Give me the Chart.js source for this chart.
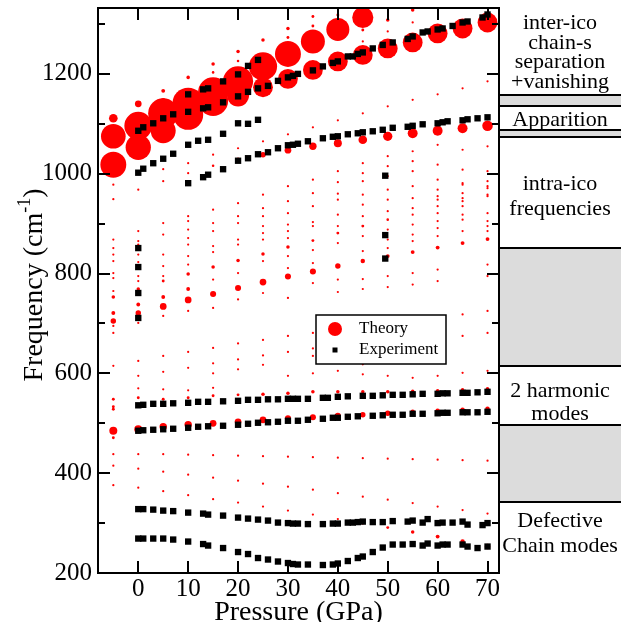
<!DOCTYPE html>
<html>
<head>
<meta charset="utf-8">
<script src="https://cdn.jsdelivr.net/npm/chart.js@4.4.0/dist/chart.umd.min.js"></script>
<style>
  html, body { margin: 0; padding: 0; background: #fff; }
</style>
</head>
<body>
<canvas id="chart" width="621" height="622"></canvas>
<script>
// ---- data ----
const theoryPressure = [-5, 0, 5, 10, 15, 20, 25, 30, 35, 40, 45, 50, 55, 60, 65, 70];

// strong theoretical modes (frequency, relative intensity 0..100)
const strongFreq = [
  [1075, 1018, 1111, 705, 721, 753, 485, 548, 533, 528, 471],
  [1096, 1053, 1140, 721, 738, 769, 488, 551],
  [1121, 1086, 1146, 1166, 734, 753, 785, 493, 548],
  [1141, 1118, 1168, 1193, 747, 769, 799, 497, 551],
  [1163, 1146, 1220, 1203, 1016, 759, 813, 500, 555],
  [1185, 1157, 1245, 1226, 1029, 771, 826, 503, 557],
  [1215, 1173, 1268, 1038, 783, 839, 507, 558],
  [1240, 1190, 1291, 1273, 1047, 794, 853, 510, 560],
  [1265, 1208, 1315, 1296, 1055, 804, 866, 512, 563],
  [1289, 1225, 1318, 1061, 815, 881, 515, 563],
  [1313, 1238, 1288, 1068, 825, 895, 517, 563],
  [1251, 1308, 1075, 835, 908, 520, 563, 291],
  [1263, 1328, 1081, 843, 523, 564, 282],
  [1281, 1086, 852, 525, 565, 273],
  [1291, 1091, 861, 527, 567, 263],
  [1303, 1096, 869, 529, 569, 253]
];
const strongInt = [
  [77, 81, 27, 17, 12, 11, 25, 9, 9, 9, 9],
  [87, 79, 21, 17, 12, 11, 25, 9],
  [94, 78, 17, 12, 21, 12, 9, 23, 9],
  [98, 94, 12, 11, 21, 12, 11, 23, 9],
  [94, 94, 11, 8, 8, 19, 11, 21, 9],
  [94, 69, 11, 8, 11, 19, 11, 21, 9],
  [88, 62, 11, 17, 21, 11, 21, 11],
  [81, 62, 11, 9, 21, 19, 11, 19, 11],
  [75, 62, 9, 9, 23, 19, 9, 19, 11],
  [72, 62, 9, 25, 17, 9, 19, 11],
  [66, 62, 9, 27, 14, 9, 17, 11],
  [62, 11, 29, 12, 8, 17, 11, 9],
  [62, 11, 31, 12, 14, 11, 11],
  [62, 31, 12, 14, 11, 12],
  [62, 31, 12, 14, 11, 14],
  [62, 33, 12, 14, 11, 17]
];

// weak theoretical modes (tiny dots)
const weakFreq = [
  [978, 949, 868, 851, 838, 825, 801, 791, 765, 695, 681, 615, 438, 415, 376],
  [968, 885, 865, 858, 838, 823, 795, 785, 701, 625, 595, 570, 438, 409, 371],
  [1009, 985, 901, 878, 838, 815, 795, 715, 635, 603, 568, 438, 403, 364],
  [1021, 1001, 915, 905, 888, 871, 858, 835, 818, 725, 643, 611, 566, 437, 397, 356],
  [1038, 928, 901, 885, 855, 843, 788, 731, 651, 620, 600, 571, 436, 391, 348],
  [1051, 941, 915, 901, 868, 858, 801, 748, 660, 628, 608, 435, 385, 341],
  [1065, 958, 931, 915, 895, 881, 868, 825, 761, 667, 636, 617, 434, 379, 333],
  [1079, 975, 945, 921, 898, 885, 871, 835, 811, 751, 675, 643, 595, 433, 373, 325],
  [1093, 988, 961, 935, 903, 895, 847, 821, 781, 681, 650, 635, 600, 432, 367, 317],
  [1107, 1005, 983, 960, 948, 918, 895, 861, 788, 763, 605, 431, 360, 308],
  [1265, 1121, 1021, 1001, 985, 958, 938, 915, 875, 845, 789, 769, 618, 598, 430, 353, 299],
  [1285, 1135, 1035, 1015, 995, 968, 948, 925, 888, 868, 851, 795, 773, 595, 429, 347],
  [1303, 1148, 1045, 1025, 1005, 975, 951, 931, 918, 898, 878, 865, 801, 778, 591, 428, 340],
  [1159, 1058, 1018, 988, 968, 955, 948, 935, 921, 905, 891, 875, 808, 785, 595, 427, 333],
  [1171, 1048, 1008, 981, 978, 961, 951, 945, 935, 918, 908, 885, 718, 675, 601, 426, 326],
  [1185, 1055, 1005, 985, 975, 971, 958, 955, 921, 905, 895, 885, 818, 795, 725, 681, 605, 425, 319]
];
const weakInt = 7;

// experimental branches [pressure, frequency]
const expInterA = [[0,1086],[1,1093],[3,1101],[5,1111],[7,1119],[10,1124],[13,1131],[14,1133],[17,1143],[20,1155],[22,1164],[24,1171],[26,1176],[28,1186],[30,1193],[31,1196],[32,1200],[35,1207],[37,1215],[39,1222],[40,1225],[42,1235],[43,1235],[44,1240],[45,1243],[47,1251],[49,1258],[51,1263],[54,1270],[55,1275],[57,1283],[58,1285],[60,1289],[61,1291],[63,1296],[65,1303],[66,1305],[69,1313],[70,1319]];
const expInterB = [[10,1159],[13,1169],[14,1171],[17,1185],[20,1199],[22,1216],[24,1228]];
const expApparC = [[0,1002],[1,1010],[3,1021],[5,1030],[7,1040],[10,1058],[12,1066],[14,1068],[17,1080],[20,1101],[22,1100],[24,1108]];
const expApparD = [[10,981],[13,993],[14,998],[17,1009],[20,1026],[22,1031],[24,1039],[26,1043],[28,1051],[30,1057],[31,1058],[32,1060],[34,1065],[37,1071],[39,1074],[40,1075],[42,1079],[44,1081],[45,1083],[47,1085],[49,1088],[51,1092],[54,1094],[55,1096],[57,1099],[60,1101],[61,1103],[62,1105],[65,1107],[66,1109],[68,1111],[70,1113]];
const expIntra = [[0,851],[0,813],[0,761],[0,711],[49.5,996],[49.5,877],[49.5,830]];
const expHarmUp = [[0,536],[1,537],[3,539],[5,539],[7,540],[10,541],[12,543],[14,543],[17,544],[20,545],[22,547],[24,547],[26,548],[28,548],[30,549],[31,549],[32,549],[34,549],[37,551],[38,551],[40,553],[42,554],[45,555],[47,555],[49,556],[51,557],[53,557],[55,558],[57,559],[60,559],[61,560],[62,560],[65,561],[66,561],[68,562],[70,563]];
const expHarmLo = [[0,485],[1,486],[3,487],[5,488],[7,489],[10,491],[12,493],[14,494],[17,495],[20,497],[22,499],[24,501],[26,502],[28,503],[30,505],[32,505],[34,507],[37,509],[39,511],[40,511],[42,513],[44,514],[47,515],[49,516],[51,517],[53,517],[55,519],[57,519],[60,520],[61,521],[62,521],[65,522],[66,522],[68,522],[70,523]];
const expDefUp = [[0,328],[1,328],[3,327],[5,325],[7,324],[10,321],[13,319],[14,317],[17,315],[20,311],[22,309],[24,307],[26,305],[28,301],[30,300],[31,299],[32,299],[34,298],[37,298],[39,299],[40,299],[42,301],[43,301],[44,302],[45,303],[47,302],[49,302],[51,304],[54,303],[55,305],[57,301],[58,308],[60,300],[61,301],[63,301],[65,303],[66,297],[69,296],[70,300]];
const expDefLo = [[0,269],[1,269],[3,269],[5,269],[7,267],[10,263],[13,258],[14,255],[17,250],[20,242],[22,238],[24,230],[26,227],[28,223],[30,220],[31,218],[32,217],[34,217],[37,216],[39,217],[40,219],[42,224],[44,230],[45,233],[47,242],[49,251],[51,257],[53,257],[55,258],[57,255],[58,259],[60,255],[61,257],[62,257],[65,257],[66,253],[68,250],[70,253]];

const xTicks = [0, 10, 20, 30, 40, 50, 60, 70];
const yTicks = [200, 300, 400, 500, 600, 700, 800, 900, 1000, 1100, 1200, 1300];

// right-hand panel: grey frequency bands and region labels
const grayBands = [[1136, 1158], [1074, 1088], [614, 852], [342, 496]];
const regionLabels = [
  { lines: ['inter-ico', 'chain-s', 'separation', '+vanishing'], at: 1242, step: 19.5 },
  { lines: ['Apparition'], at: 1108, step: 24 },
  { lines: ['intra-ico', 'frequencies'], at: 953, step: 25 },
  { lines: ['2 harmonic', 'modes'], at: 541, step: 23 },
  { lines: ['Defective', 'Chain modes'], at: 279, step: 25 }
];

// ---- build points ----
const radiusOf = i => 0.16 * i;
const theoryPoints = [];
theoryPressure.forEach((p, k) => {
  weakFreq[k].forEach(f => theoryPoints.push({ x: p, y: f, i: weakInt }));
  strongFreq[k].forEach((f, j) => theoryPoints.push({ x: p, y: f, i: strongInt[k][j] }));
});
const expPoints = [expInterA, expInterB, expApparC, expApparD, expIntra, expHarmUp, expHarmLo, expDefUp, expDefLo]
  .flat().map(([p, f]) => ({ x: p, y: f }));

const SERIF = '"Liberation Serif", "Times New Roman", serif';

const decor = {
  id: 'decor',
  afterDraw(chart) {
    const { ctx, chartArea: a, scales: { x, y } } = chart;
    const W = chart.width;
    ctx.save();

    // grey bands in the side panel
    ctx.fillStyle = '#dcdcdc';
    grayBands.forEach(([lo, hi]) => {
      const top = y.getPixelForValue(hi), bot = y.getPixelForValue(lo);
      ctx.fillRect(a.right, top, W - a.right, bot - top);
    });
    ctx.strokeStyle = '#000';
    ctx.lineWidth = 2;
    ctx.beginPath();
    grayBands.flat().forEach(v => {
      const py = Math.round(y.getPixelForValue(v));
      ctx.moveTo(a.right, py); ctx.lineTo(W, py);
    });
    ctx.stroke();

    // frame
    ctx.strokeRect(a.left, a.top, a.right - a.left, a.bottom - a.top);

    // inner ticks on all four sides
    ctx.beginPath();
    x.ticks.forEach(t => {
      const px = Math.round(x.getPixelForValue(t.value));
      ctx.moveTo(px, a.bottom); ctx.lineTo(px, a.bottom - 12);
      ctx.moveTo(px, a.top); ctx.lineTo(px, a.top + 12);
    });
    y.ticks.forEach(t => {
      const py = Math.round(y.getPixelForValue(t.value));
      const len = t.value % 200 === 0 ? 12 : 7;
      ctx.moveTo(a.left, py); ctx.lineTo(a.left + len, py);
      ctx.moveTo(a.right, py); ctx.lineTo(a.right - len, py);
    });
    ctx.stroke();

    // side panel labels
    ctx.fillStyle = '#000';
    ctx.font = '22px ' + SERIF;
    ctx.textAlign = 'center';
    ctx.textBaseline = 'middle';
    const cx = (a.right + W) / 2;
    regionLabels.forEach(r => {
      const c = y.getPixelForValue(r.at);
      const n = r.lines.length;
      r.lines.forEach((s, k) => ctx.fillText(s, cx, c + (k - (n - 1) / 2) * r.step));
    });

    // axis titles
    ctx.font = '28px ' + SERIF;
    ctx.textBaseline = 'alphabetic';
    ctx.fillText('Pressure (GPa)', (a.left + a.right) / 2, 620);

    ctx.save();
    ctx.translate(42, 285);
    ctx.rotate(-Math.PI / 2);
    ctx.textAlign = 'left';
    const main = 'Frequency (cm', close = ')', sup = '-1';
    ctx.font = '28px ' + SERIF;
    const w1 = ctx.measureText(main).width, w3 = ctx.measureText(close).width;
    ctx.font = '18px ' + SERIF;
    const w2 = ctx.measureText(sup).width;
    let sx = -(w1 + w2 + w3) / 2;
    ctx.font = '28px ' + SERIF;
    ctx.fillText(main, sx, 0); sx += w1;
    ctx.font = '18px ' + SERIF;
    ctx.fillText(sup, sx, -12); sx += w2;
    ctx.font = '28px ' + SERIF;
    ctx.fillText(close, sx, 0);
    ctx.restore();

    // legend box
    const lx = 316, ly = 315, lw = 130, lh = 49;
    ctx.fillStyle = '#fff';
    ctx.fillRect(lx, ly, lw, lh);
    ctx.lineWidth = 1.5;
    ctx.strokeRect(lx, ly, lw, lh);
    ctx.fillStyle = chart.data.datasets[0].backgroundColor;
    ctx.beginPath(); ctx.arc(lx + 19, ly + 14, 7, 0, Math.PI * 2); ctx.fill();
    ctx.fillStyle = chart.data.datasets[1].backgroundColor;
    ctx.fillRect(lx + 16.5, ly + 32.5, 5, 5);
    ctx.fillStyle = '#000';
    ctx.font = '17px ' + SERIF;
    ctx.textAlign = 'left';
    ctx.textBaseline = 'middle';
    ctx.fillText(chart.data.datasets[0].label, lx + 43, ly + 14);
    ctx.fillText(chart.data.datasets[1].label, lx + 43, ly + 35);
    ctx.restore();
  }
};

new Chart(document.getElementById('chart'), {
  type: 'scatter',
  data: {
    datasets: [
      {
        label: 'Theory',
        data: theoryPoints,
        backgroundColor: '#ff0000',
        borderWidth: 0,
        pointStyle: 'circle',
        pointRadius: c => (c.raw ? radiusOf(c.raw.i) : 1),
        order: 1
      },
      {
        label: 'Experiment',
        data: expPoints,
        backgroundColor: '#000000',
        borderWidth: 0,
        pointStyle: 'rect',
        pointRadius: 4.5,
        order: 0
      }
    ]
  },
  options: {
    responsive: false,
    animation: false,
    events: [],
    layout: { autoPadding: false, padding: { top: 8, right: 122, left: 0, bottom: 0 } },
    plugins: { legend: { display: false }, tooltip: { enabled: false } },
    scales: {
      x: {
        type: 'linear',
        min: -8.07,
        max: 72.3,
        afterFit: s => { s.height = 49; s.paddingLeft = 0; s.paddingRight = 0; },
        afterBuildTicks: s => { s.ticks = xTicks.map(v => ({ value: v })); },
        grid: { display: false, drawTicks: false },
        border: { display: false },
        ticks: { color: '#000', font: { family: SERIF, size: 25 }, padding: 1, maxRotation: 0, autoSkip: false }
      },
      y: {
        type: 'linear',
        min: 200,
        max: 1332,
        afterFit: s => { s.width = 98; s.paddingTop = 0; s.paddingBottom = 0; },
        afterBuildTicks: s => { s.ticks = yTicks.map(v => ({ value: v })); },
        grid: { display: false, drawTicks: false },
        border: { display: false },
        ticks: {
          color: '#000',
          font: { family: SERIF, size: 25 },
          padding: 6,
          autoSkip: false,
          callback: v => (v % 200 === 0 ? String(v) : '')
        }
      }
    }
  },
  plugins: [decor]
});
</script>
